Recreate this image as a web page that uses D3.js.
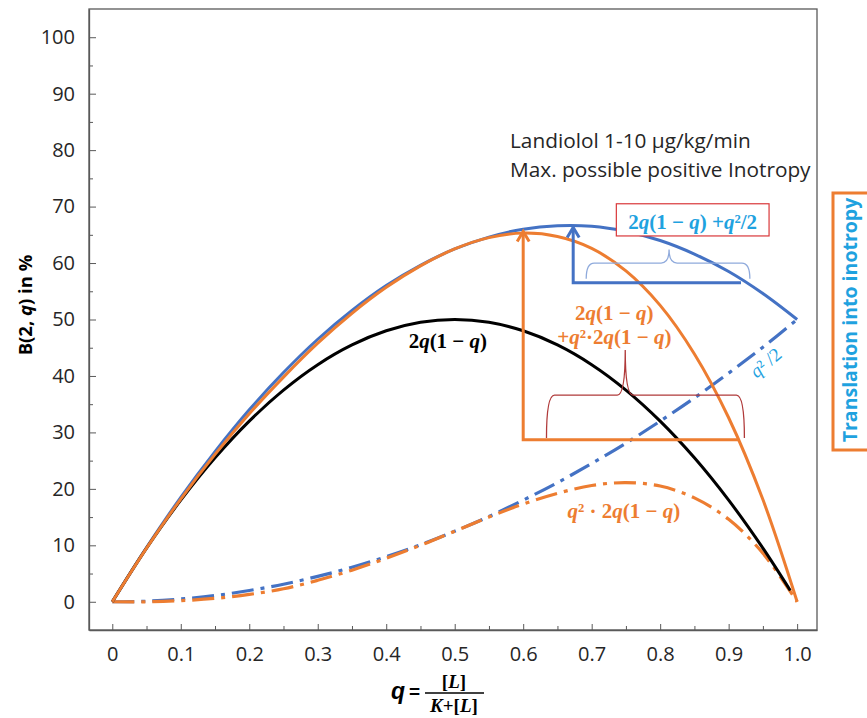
<!DOCTYPE html>
<html>
<head>
<meta charset="utf-8">
<script src="https://cdn.jsdelivr.net/npm/d3@7"></script>
<style>
  body { margin: 0; background: #fff; }
  .tick text { font-family: "Open Sans", sans-serif; font-size: 20px; fill: #262626; }
  .math { font-family: "Liberation Serif", serif; font-weight: bold; }
</style>
</head>
<body>
<div id="chart"></div>
<script>
// ligand occupancy q
var qValues = [0, 0.05, 0.1, 0.15, 0.2, 0.25, 0.3, 0.35, 0.4, 0.45, 0.5,
               0.55, 0.6, 0.65, 0.7, 0.75, 0.8, 0.85, 0.9, 0.95, 1.0];
var qBlack = [0, 0.05, 0.1, 0.15, 0.2, 0.25, 0.3, 0.35, 0.4, 0.45, 0.5,
              0.55, 0.6, 0.65, 0.7, 0.75, 0.8, 0.85, 0.9, 0.95, 0.99];

// values (B(2,q) in %)
var binomial   = [0, 9.5, 18, 25.5, 32, 37.5, 42, 45.5, 48, 49.5, 50, 49.5, 48, 45.5, 42, 37.5, 32, 25.5, 18, 9.5, 2];
var blueTotal  = [0, 9.6, 18.5, 26.6, 34, 40.6, 46.5, 51.6, 56, 59.6, 62.5, 64.6, 66, 66.6, 66.5, 65.6, 64, 61.6, 58.5, 54.6, 50];
var orangeTotal= [0, 9.5, 18.2, 26.1, 33.3, 39.8, 45.8, 51.1, 55.7, 59.5, 62.5, 64.5, 65.3, 64.7, 62.6, 58.6, 52.5, 43.9, 32.6, 18.1, 0];
var blueHalf   = [0, 0.1, 0.5, 1.1, 2, 3.1, 4.5, 6.1, 8, 10.1, 12.5, 15.1, 18, 21.1, 24.5, 28.1, 32, 36.1, 40.5, 45.1, 50];
var orangeExtra= [0, 0, 0.2, 0.6, 1.3, 2.3, 3.8, 5.6, 7.7, 10, 12.5, 15, 17.3, 19.2, 20.6, 21.1, 20.5, 18.4, 14.6, 8.6, 0];

var yTicks = [0, 10, 20, 30, 40, 50, 60, 70, 80, 90, 100];
var xTicks = [0, 0.1, 0.2, 0.3, 0.4, 0.5, 0.6, 0.7, 0.8, 0.9, 1.0];
var xTickLabels = ["0", "0.1", "0.2", "0.3", "0.4", "0.5", "0.6", "0.7", "0.8", "0.9", "1.0"];

var blue = "#4472C4", orange = "#ED7D31", cyan = "#1FA2DF";

var margin = {top: 9, right: 50, bottom: 88, left: 89},
    width = 867 - margin.left - margin.right,
    height = 718 - margin.top - margin.bottom;

var svg = d3.select("#chart")
  .append("svg")
    .attr("width", 867)
    .attr("height", 718);

var g = svg.append("g")
    .attr("transform", "translate(" + margin.left + "," + margin.top + ")");

var x = d3.scaleLinear().domain([-0.034, 1.029]).range([0, width]);
var y = d3.scaleLinear().domain([-5, 105]).range([height, 0]);

// frame
g.append("rect")
  .attr("width", width).attr("height", height)
  .attr("fill", "none").attr("stroke", "#595959").attr("stroke-width", 1.3);

// minor ticks
var yMinor = d3.axisLeft(y).tickValues(d3.range(5, 100, 10)).tickSize(-4).tickSizeOuter(0).tickFormat("");
g.append("g").call(yMinor).call(function(s) { s.select(".domain").remove(); })
  .selectAll("line").attr("stroke", "#595959");
var xMinor = d3.axisBottom(x).tickValues(d3.range(0.05, 1, 0.1)).tickSize(-4).tickSizeOuter(0).tickFormat("");
g.append("g").attr("transform", "translate(0," + height + ")").call(xMinor)
  .call(function(s) { s.select(".domain").remove(); })
  .selectAll("line").attr("stroke", "#595959");

// major axes
var yAxis = d3.axisLeft(y).tickValues(yTicks).tickSize(-7).tickSizeOuter(0).tickPadding(14);
g.append("g").call(yAxis).call(function(s) { s.select(".domain").attr("stroke", "#595959").attr("stroke-width", 1.3); })
  .selectAll("line").attr("stroke", "#595959");

var xAxis = d3.axisBottom(x).tickValues(xTicks).tickSize(-6).tickSizeOuter(0).tickPadding(17)
  .tickFormat(function(d, i) { return xTickLabels[i]; });
g.append("g").attr("transform", "translate(0," + height + ")").call(xAxis)
  .call(function(s) { s.select(".domain").attr("stroke", "#595959").attr("stroke-width", 1.3); })
  .selectAll("line").attr("stroke", "#595959");

// lines
var line = d3.line()
  .x(function(d) { return x(d[0]); })
  .y(function(d) { return y(d[1]); })
  .curve(d3.curveCatmullRom.alpha(0.5));

function series(qs, vals) { return qs.map(function(q, i) { return [q, vals[i]]; }); }

g.append("path").datum(series(qValues, blueHalf))
  .attr("fill", "none").attr("stroke", blue).attr("stroke-width", 3.2)
  .attr("stroke-dasharray", "22,7,4,7").attr("d", line);
g.append("path").datum(series(qValues, orangeExtra))
  .attr("fill", "none").attr("stroke", orange).attr("stroke-width", 3.2)
  .attr("stroke-dasharray", "22,7,4,7").attr("d", line);
g.append("path").datum(series(qValues, blueTotal))
  .attr("fill", "none").attr("stroke", blue).attr("stroke-width", 3).attr("d", line);
g.append("path").datum(series(qBlack, binomial))
  .attr("fill", "none").attr("stroke", "#000").attr("stroke-width", 3).attr("d", line);
g.append("path").datum(series(qValues, orangeTotal))
  .attr("fill", "none").attr("stroke", orange).attr("stroke-width", 3).attr("d", line);

// annotation helpers
function arrowL(q0, vTop, vBase, q1, color) {
  var x0 = x(q0), yt = y(vTop), yb = y(vBase);
  g.append("path")
    .attr("d", "M" + x(q1) + "," + yb + "H" + x0 + "V" + yt)
    .attr("fill", "none").attr("stroke", color).attr("stroke-width", 3);
  g.append("path")
    .attr("d", "M" + (x0 - 6) + "," + (yt + 10) + "L" + x0 + "," + yt + "L" + (x0 + 6) + "," + (yt + 10))
    .attr("fill", "none").attr("stroke", color).attr("stroke-width", 3).attr("stroke-linejoin", "miter");
}
function brace(qa, qb, qc, vEnd, vFlat, vTip, color) {
  var xa = x(qa), xb = x(qb), xc = x(qc), ye = y(vEnd), yf = y(vFlat), yt = y(vTip), r = 8;
  var d = "M" + xa + "," + ye + " Q" + xa + "," + yf + " " + (xa + r) + "," + yf +
          " L" + (xc - r) + "," + yf + " Q" + xc + "," + yf + " " + xc + "," + yt +
          " Q" + xc + "," + yf + " " + (xc + r) + "," + yf +
          " L" + (xb - r) + "," + yf + " Q" + xb + "," + yf + " " + xb + "," + ye;
  g.append("path").attr("d", d).attr("fill", "none").attr("stroke", color).attr("stroke-width", 1.3);
}
function mathText(parent, px, py, parts, color, size) {
  var t = parent.append("text").attr("class", "math").attr("x", px).attr("y", py)
    .attr("text-anchor", "middle").attr("fill", color).style("font-size", size + "px");
  parts.forEach(function(p) {
    t.append("tspan").text(p[0]).style("font-style", p[1] ? "italic" : "normal");
  });
  return t;
}

arrowL(0.6, 65.6, 28.7, 0.915, orange);
arrowL(0.673, 66.3, 56.5, 0.918, blue);

brace(0.692, 0.931, 0.813, 57.2, 60.0, 62.4, "#8FAADC");
brace(0.634, 0.923, 0.749, 29.0, 36.6, 44.6, "#B03A3A");

// red box with blue formula
g.append("rect")
  .attr("x", x(0.736)).attr("y", y(70.5))
  .attr("width", x(0.959) - x(0.736)).attr("height", y(64.8) - y(70.5))
  .attr("fill", "#fff").attr("stroke", "#D9383A").attr("stroke-width", 1.2);
mathText(g, (x(0.736) + x(0.959)) / 2, y(66.1),
  [["2", 0], ["q", 1], ["(1 \u2212 ", 0], ["q", 1], [") +", 0], ["q", 1], ["\u00b2/2", 0]], cyan, 21);

mathText(g, x(0.49), y(44.9), [["2", 0], ["q", 1], ["(1 \u2212 ", 0], ["q", 1], [")", 0]], "#000", 21);
mathText(g, x(0.733), y(50.0), [["2", 0], ["q", 1], ["(1 \u2212 ", 0], ["q", 1], [")", 0]], orange, 21);
mathText(g, x(0.733), y(45.6), [["+", 0], ["q", 1], ["\u00b2\u00b72", 0], ["q", 1], ["(1 \u2212 ", 0], ["q", 1], [")", 0]], orange, 21);
mathText(g, x(0.747), y(14.8), [["q", 1], ["\u00b2 \u00b7 2", 0], ["q", 1], ["(1 \u2212 ", 0], ["q", 1], [")", 0]], orange, 21);

mathText(g, 0, 0, [["q", 1], ["\u00b2 /2", 0]], cyan, 19)
  .style("font-weight", "normal")
  .attr("transform", "translate(" + x(0.96) + "," + y(41.5) + ") rotate(-40)");

// top-right note
var note = g.append("text")
  .attr("x", 421).attr("y", 139)
  .style("font-family", "Open Sans, sans-serif").style("font-size", "20.8px").attr("fill", "#262626");
note.append("tspan").attr("x", 421).text("Landiolol 1-10 \u00b5g/kg/min");
note.append("tspan").attr("x", 421).attr("dy", 29).text("Max. possible positive Inotropy");

// right box
svg.append("rect")
  .attr("x", 833).attr("y", 193).attr("width", 40).attr("height", 257)
  .attr("fill", "none").attr("stroke", orange).attr("stroke-width", 3);
svg.append("text")
  .attr("transform", "translate(857,320) rotate(-90)")
  .attr("text-anchor", "middle")
  .style("font-family", "Open Sans, sans-serif").style("font-size", "19.5px").style("font-weight", "bold")
  .attr("fill", cyan).text("Translation into inotropy");

// y axis title
var yt = svg.append("text")
  .attr("transform", "translate(32,305) rotate(-90)")
  .attr("text-anchor", "middle")
  .style("font-family", "Open Sans, sans-serif").style("font-size", "18.5px").style("font-weight", "bold")
  .attr("fill", "#000");
yt.append("tspan").text("B(2, ");
yt.append("tspan").style("font-style", "italic").text("q");
yt.append("tspan").text(") in %");

// x axis title  q = [L] / (K+[L])
var xl = svg.append("g");
xl.append("text").attr("x", 391).attr("y", 699)
  .style("font-family", "Liberation Sans, sans-serif").style("font-size", "23px")
  .style("font-weight", "bold").style("font-style", "italic").text("q");
xl.append("text").attr("x", 409).attr("y", 698)
  .style("font-family", "Liberation Sans, sans-serif").style("font-size", "19px")
  .style("font-weight", "bold").text("=");
xl.append("line").attr("x1", 425).attr("x2", 484).attr("y1", 693).attr("y2", 693)
  .attr("stroke", "#000").attr("stroke-width", 1.5);
mathText(xl, 454, 688, [["[", 0], ["L", 1], ["]", 0]], "#000", 19);
mathText(xl, 454, 712, [["K", 1], ["+[", 0], ["L", 1], ["]", 0]], "#000", 19);
</script>
</body>
</html>
